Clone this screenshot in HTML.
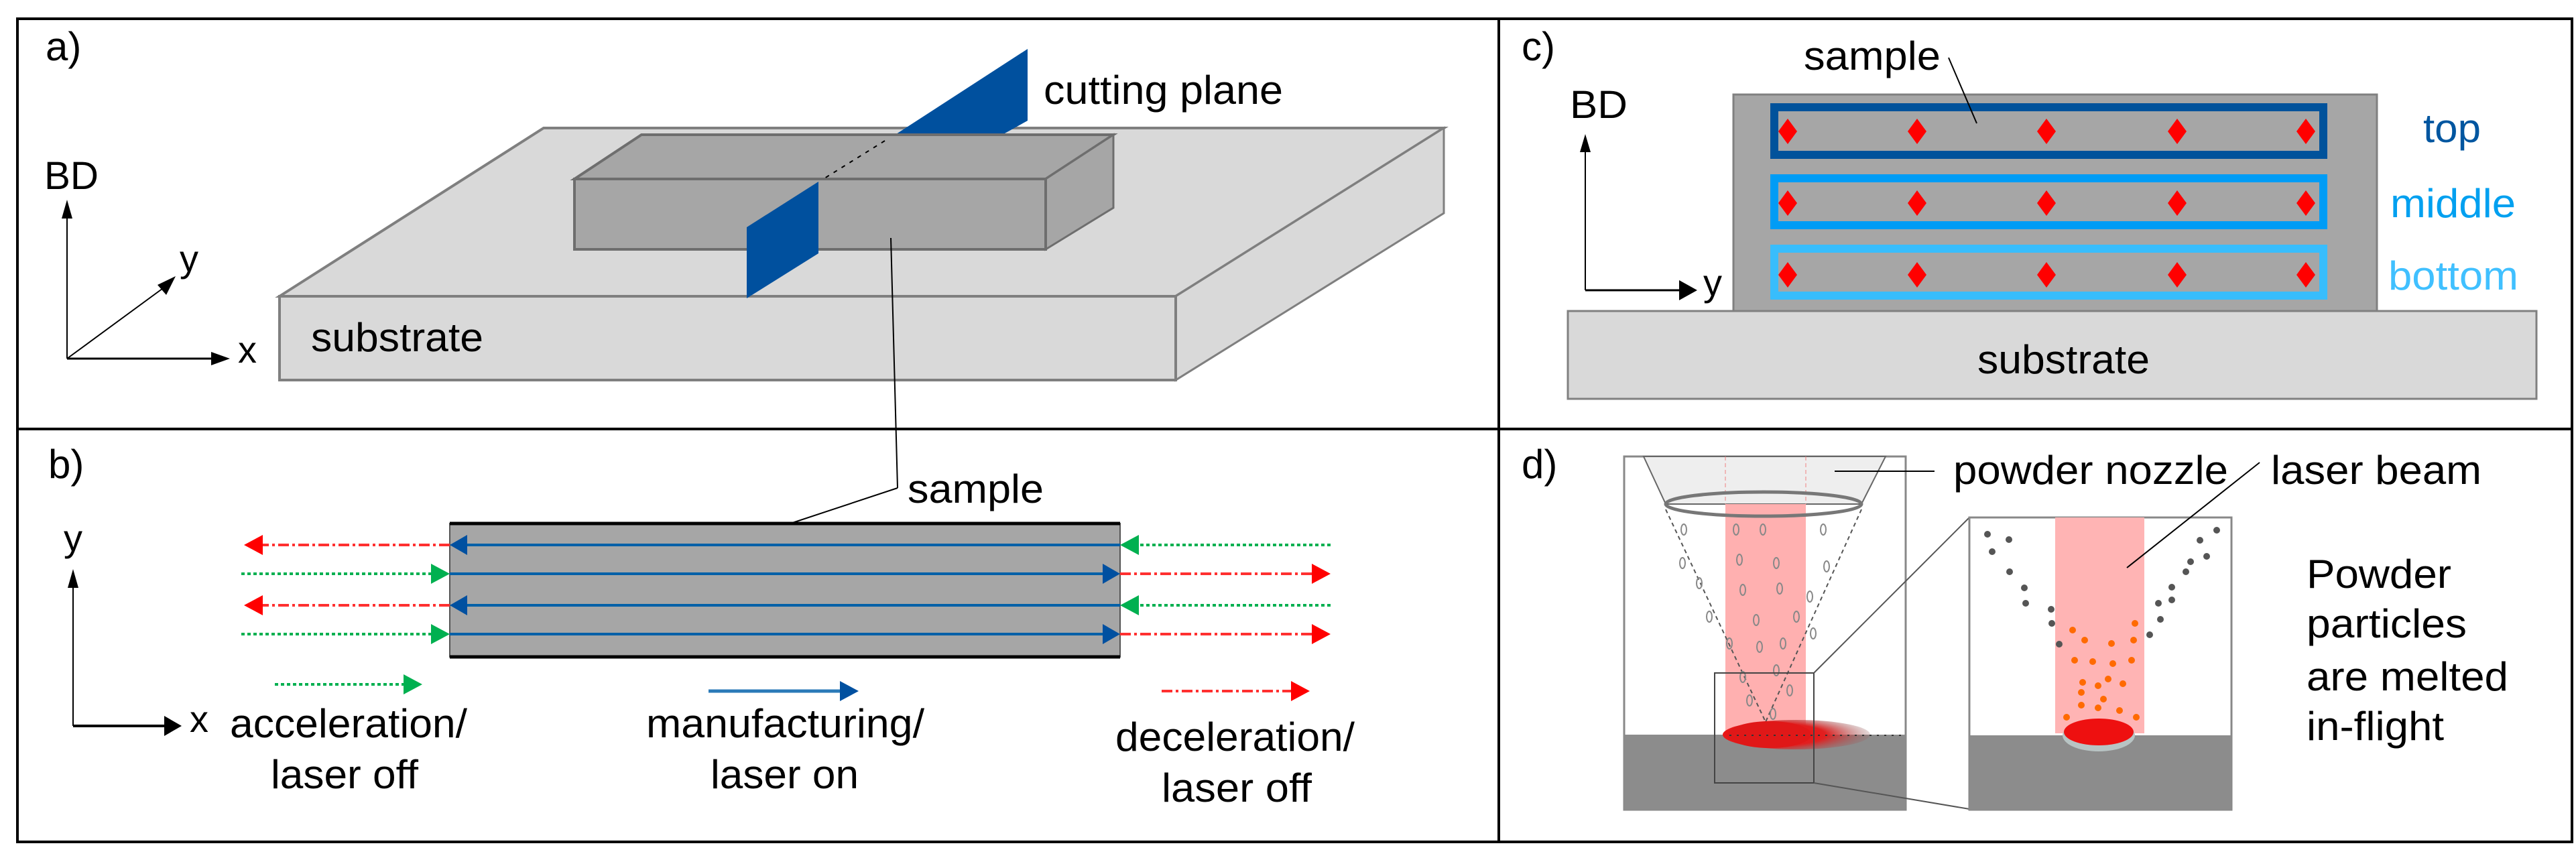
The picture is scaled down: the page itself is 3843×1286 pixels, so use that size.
<!DOCTYPE html>
<html><head><meta charset="utf-8"><style>html,body{margin:0;padding:0;background:#fff}svg{display:block}text{font-family:"Liberation Sans",Arial,sans-serif;fill:#000}</style></head><body>
<svg width="3843" height="1286" viewBox="0 0 3843 1286" xmlns="http://www.w3.org/2000/svg">
<defs>
<radialGradient id="mp" cx="0.3" cy="0.5" r="0.8"><stop offset="0" stop-color="#ff0000"/><stop offset="0.5" stop-color="#e02020"/><stop offset="1" stop-color="#808080" stop-opacity="0"/></radialGradient>
</defs>
<!-- frame -->
<rect x="26" y="28" width="3811" height="1228" fill="none" stroke="#000" stroke-width="4"/>
<line x1="26" y1="640" x2="3837" y2="640" stroke="#000" stroke-width="4"/>
<line x1="2236" y1="28" x2="2236" y2="1256" stroke="#000" stroke-width="4"/>

<!-- panel a -->
<text x="68" y="90" font-size="60">a)</text>
<polygon points="417,442 811,191 2154,191 1754,442" fill="#d9d9d9" stroke="#7f7f7f" stroke-width="4"/>
<polygon points="1754,442 2154,191 2154,318 1754,567" fill="#d9d9d9" stroke="#7f7f7f" stroke-width="3"/>
<rect x="417" y="442" width="1337" height="125" fill="#d9d9d9" stroke="#7f7f7f" stroke-width="4"/>
<polygon points="1337,200 1533,73 1533,180 1497,200" fill="#00509e"/>
<polygon points="857,267 957,201 1661,201 1560,267" fill="#a6a6a6" stroke="#6e6e6e" stroke-width="4"/>
<polygon points="1560,267 1661,201 1661,310 1560,372" fill="#a6a6a6" stroke="#6e6e6e" stroke-width="3"/>
<rect x="857" y="267" width="703" height="105" fill="#a6a6a6" stroke="#6e6e6e" stroke-width="4"/>
<line x1="1320" y1="210" x2="1230" y2="266" stroke="#000" stroke-width="2" stroke-dasharray="6,8"/>
<polygon points="1221,271 1221,378 1114,445 1114,339" fill="#00509e"/>
<line x1="1329" y1="355" x2="1339" y2="728" stroke="#000" stroke-width="2"/>
<line x1="1339" y1="728" x2="1179" y2="781" stroke="#000" stroke-width="2"/>
<text x="1557" y="155" font-size="60" textLength="357" lengthAdjust="spacingAndGlyphs">cutting plane</text>
<text x="464" y="524" font-size="60" textLength="257" lengthAdjust="spacingAndGlyphs">substrate</text>
<text x="66" y="282" font-size="58" textLength="81" lengthAdjust="spacingAndGlyphs">BD</text>
<line x1="100" y1="535" x2="100" y2="320" stroke="#000" stroke-width="2"/>
<polygon points="100,298 92,326 108,326"/>
<line x1="100" y1="535" x2="320" y2="535" stroke="#000" stroke-width="3"/>
<polygon points="343,535 315,525 315,545"/>
<line x1="100" y1="535" x2="250" y2="425" stroke="#000" stroke-width="2"/>
<polygon points="262,412 235,425 248,440"/>
<text x="355" y="541" font-size="56">x</text>
<text x="268" y="405" font-size="56">y</text>

<!-- panel b -->
<text x="72" y="713" font-size="60">b)</text>
<rect x="671" y="781" width="1000" height="199" fill="#a6a6a6" stroke="#555" stroke-width="2"/>
<line x1="671" y1="781" x2="1671" y2="781" stroke="#000" stroke-width="5"/>
<line x1="671" y1="980" x2="1671" y2="980" stroke="#000" stroke-width="5"/>
<g stroke-width="4">
<!-- row 1 -->
<line x1="1671" y1="813" x2="690" y2="813" stroke="#0060a8"/><polygon points="671,813 697,798 697,828" fill="#0050a0"/>
<line x1="671" y1="813" x2="385" y2="813" stroke="#ff3030" stroke-dasharray="16,5,4,5"/><polygon points="364,813 392,798 392,828" fill="#ff0000"/>
<line x1="1985" y1="813" x2="1690" y2="813" stroke="#00b050" stroke-dasharray="5,4"/><polygon points="1671,813 1699,798 1699,828" fill="#00b050"/>
<!-- row 2 -->
<line x1="360" y1="856" x2="650" y2="856" stroke="#00b050" stroke-dasharray="5,4"/><polygon points="671,856 643,841 643,871" fill="#00b050"/>
<line x1="671" y1="856" x2="1650" y2="856" stroke="#0060a8"/><polygon points="1671,856 1645,841 1645,871" fill="#0050a0"/>
<line x1="1671" y1="856" x2="1960" y2="856" stroke="#ff3030" stroke-dasharray="16,5,4,5"/><polygon points="1985,856 1957,841 1957,871" fill="#ff0000"/>
<!-- row 3 -->
<line x1="1671" y1="903" x2="690" y2="903" stroke="#0060a8"/><polygon points="671,903 697,888 697,918" fill="#0050a0"/>
<line x1="671" y1="903" x2="385" y2="903" stroke="#ff3030" stroke-dasharray="16,5,4,5"/><polygon points="364,903 392,888 392,918" fill="#ff0000"/>
<line x1="1985" y1="903" x2="1690" y2="903" stroke="#00b050" stroke-dasharray="5,4"/><polygon points="1671,903 1699,888 1699,918" fill="#00b050"/>
<!-- row 4 -->
<line x1="360" y1="946" x2="650" y2="946" stroke="#00b050" stroke-dasharray="5,4"/><polygon points="671,946 643,931 643,961" fill="#00b050"/>
<line x1="671" y1="946" x2="1650" y2="946" stroke="#0060a8"/><polygon points="1671,946 1645,931 1645,961" fill="#0050a0"/>
<line x1="1671" y1="946" x2="1960" y2="946" stroke="#ff3030" stroke-dasharray="16,5,4,5"/><polygon points="1985,946 1957,931 1957,961" fill="#ff0000"/>
<!-- legend -->
<line x1="410" y1="1021" x2="605" y2="1021" stroke="#00b050" stroke-dasharray="5,4"/><polygon points="630,1021 602,1006 602,1036" fill="#00b050"/>
<line x1="1057" y1="1031" x2="1255" y2="1031" stroke="#2a7ab8" stroke-width="5"/><polygon points="1281,1031 1253,1016 1253,1046" fill="#0050a0"/>
<line x1="1733" y1="1031" x2="1928" y2="1031" stroke="#ff3030" stroke-dasharray="16,5,4,5"/><polygon points="1954,1031 1926,1016 1926,1046" fill="#ff0000"/>
</g>
<line x1="109" y1="1083" x2="109" y2="872" stroke="#000" stroke-width="2"/>
<polygon points="109,849 101,877 117,877"/>
<line x1="109" y1="1083" x2="250" y2="1083" stroke="#000" stroke-width="4"/>
<polygon points="271,1083 245,1068 245,1098"/>
<text x="95" y="822" font-size="56">y</text>
<text x="283" y="1092" font-size="56">x</text>
<text x="1354" y="750" font-size="60" textLength="203" lengthAdjust="spacingAndGlyphs">sample</text>
<text x="343" y="1100" font-size="60" textLength="354" lengthAdjust="spacingAndGlyphs">acceleration/</text>
<text x="404" y="1176" font-size="60" textLength="220" lengthAdjust="spacingAndGlyphs">laser off</text>
<text x="964" y="1100" font-size="60" textLength="415" lengthAdjust="spacingAndGlyphs">manufacturing/</text>
<text x="1060" y="1176" font-size="60" textLength="221" lengthAdjust="spacingAndGlyphs">laser on</text>
<text x="1664" y="1120" font-size="60" textLength="357" lengthAdjust="spacingAndGlyphs">deceleration/</text>
<text x="1733" y="1196" font-size="60" textLength="224" lengthAdjust="spacingAndGlyphs">laser off</text>

<!-- panel c -->
<text x="2270" y="90" font-size="60">c)</text>
<rect x="2339" y="464" width="1445" height="131" fill="#d9d9d9" stroke="#808080" stroke-width="3"/>
<rect x="2586" y="141" width="960" height="323" fill="#a6a6a6" stroke="#808080" stroke-width="3"/>
<rect x="2647" y="160" width="819" height="71" fill="none" stroke="#00529b" stroke-width="12"/>
<rect x="2647" y="266" width="819" height="70" fill="none" stroke="#009cf5" stroke-width="12"/>
<rect x="2647" y="371" width="819" height="70" fill="none" stroke="#38bdfc" stroke-width="12"/>
<g fill="#ff0000">
<polygon points="2667,177 2681,196 2667,215 2653,196"/><polygon points="2860,177 2874,196 2860,215 2846,196"/><polygon points="3053,177 3067,196 3053,215 3039,196"/><polygon points="3248,177 3262,196 3248,215 3234,196"/><polygon points="3440,177 3454,196 3440,215 3426,196"/>
<polygon points="2667,284 2681,303 2667,322 2653,303"/><polygon points="2860,284 2874,303 2860,322 2846,303"/><polygon points="3053,284 3067,303 3053,322 3039,303"/><polygon points="3248,284 3262,303 3248,322 3234,303"/><polygon points="3440,284 3454,303 3440,322 3426,303"/>
<polygon points="2667,391 2681,410 2667,429 2653,410"/><polygon points="2860,391 2874,410 2860,429 2846,410"/><polygon points="3053,391 3067,410 3053,429 3039,410"/><polygon points="3248,391 3262,410 3248,429 3234,410"/><polygon points="3440,391 3454,410 3440,429 3426,410"/>
</g>
<line x1="2907" y1="86" x2="2949" y2="184" stroke="#000" stroke-width="2"/>
<text x="2691" y="104" font-size="60" textLength="204" lengthAdjust="spacingAndGlyphs">sample</text>
<text x="2342" y="176" font-size="58" textLength="86" lengthAdjust="spacingAndGlyphs">BD</text>
<line x1="2365" y1="433" x2="2365" y2="222" stroke="#000" stroke-width="2"/>
<polygon points="2365,200 2357,227 2373,227"/>
<line x1="2365" y1="433" x2="2510" y2="433" stroke="#000" stroke-width="3"/>
<polygon points="2532,433 2505,418 2505,448"/>
<text x="2541" y="441" font-size="56">y</text>
<text x="3615" y="212" font-size="60" fill="#0056a0" style="fill:#0056a0" textLength="86" lengthAdjust="spacingAndGlyphs">top</text>
<text x="3566" y="324" font-size="60" style="fill:#00a0f0" textLength="187" lengthAdjust="spacingAndGlyphs">middle</text>
<text x="3563" y="432" font-size="60" style="fill:#40c0ff" textLength="194" lengthAdjust="spacingAndGlyphs">bottom</text>
<text x="2950" y="557" font-size="60" textLength="257" lengthAdjust="spacingAndGlyphs">substrate</text>

<!-- panel d -->
<text x="2270" y="713" font-size="60">d)</text>
<!-- left box -->
<rect x="2423" y="681" width="420" height="527" fill="#fff" stroke="#888" stroke-width="3"/>
<rect x="2423" y="1096" width="420" height="112" fill="#8c8c8c"/>
<polygon points="2452,681 2813,681 2777,752 2485,752" fill="#eeeeee" stroke="#666" stroke-width="2"/>
<rect x="2574" y="752" width="120" height="344" fill="#ffb0b0"/>
<line x1="2574" y1="681" x2="2574" y2="752" stroke="#f08080" stroke-width="1" stroke-dasharray="6,4"/>
<line x1="2694" y1="681" x2="2694" y2="752" stroke="#f08080" stroke-width="1" stroke-dasharray="6,4"/>
<ellipse cx="2631" cy="752" rx="146" ry="18" fill="none" stroke="#777" stroke-width="5"/>
<line x1="2485" y1="760" x2="2634" y2="1077" stroke="#555" stroke-width="2" stroke-dasharray="6,5"/>
<line x1="2777" y1="760" x2="2634" y2="1077" stroke="#555" stroke-width="2" stroke-dasharray="6,5"/>
<ellipse cx="2680" cy="1096" rx="110" ry="22" fill="url(#mp)"/>
<ellipse cx="2640" cy="1096" rx="62" ry="20" fill="#e01818"/>
<line x1="2580" y1="1097" x2="2843" y2="1097" stroke="#333" stroke-width="2" stroke-dasharray="3,8"/>
<g fill="none" stroke="#888" stroke-width="2">
<ellipse cx="2512" cy="790" rx="4" ry="8"/><ellipse cx="2590" cy="790" rx="4" ry="8"/><ellipse cx="2630" cy="790" rx="4" ry="8"/><ellipse cx="2720" cy="790" rx="4" ry="8"/>
<ellipse cx="2510" cy="840" rx="4" ry="8"/><ellipse cx="2595" cy="835" rx="4" ry="8"/><ellipse cx="2650" cy="840" rx="4" ry="8"/><ellipse cx="2725" cy="845" rx="4" ry="8"/>
<ellipse cx="2535" cy="870" rx="4" ry="8"/><ellipse cx="2600" cy="880" rx="4" ry="8"/><ellipse cx="2655" cy="878" rx="4" ry="8"/><ellipse cx="2700" cy="890" rx="4" ry="8"/>
<ellipse cx="2550" cy="920" rx="4" ry="8"/><ellipse cx="2620" cy="925" rx="4" ry="8"/><ellipse cx="2680" cy="920" rx="4" ry="8"/><ellipse cx="2705" cy="945" rx="4" ry="8"/>
<ellipse cx="2580" cy="960" rx="4" ry="8"/><ellipse cx="2625" cy="965" rx="4" ry="8"/><ellipse cx="2660" cy="960" rx="4" ry="8"/>
<ellipse cx="2600" cy="1010" rx="4" ry="8"/><ellipse cx="2650" cy="1000" rx="4" ry="8"/><ellipse cx="2670" cy="1030" rx="4" ry="8"/>
<ellipse cx="2610" cy="1045" rx="4" ry="8"/><ellipse cx="2645" cy="1065" rx="4" ry="8"/>
</g>
<rect x="2558" y="1004" width="148" height="164" fill="none" stroke="#444" stroke-width="2"/>
<line x1="2706" y1="1004" x2="2938" y2="772" stroke="#555" stroke-width="2"/>
<line x1="2706" y1="1168" x2="2938" y2="1207" stroke="#555" stroke-width="2"/>
<!-- right box -->
<rect x="2938" y="772" width="391" height="436" fill="#fff" stroke="#888" stroke-width="3"/>
<rect x="2938" y="1097" width="391" height="111" fill="#8c8c8c"/>
<rect x="3066" y="772" width="133" height="322" fill="#ffb4b4"/>
<ellipse cx="3131" cy="1097" rx="54" ry="24" fill="#b8c4c4"/>
<ellipse cx="3131" cy="1092" rx="52" ry="20" fill="#ee1010"/>
<g fill="#555">
<circle cx="2965" cy="797" r="5"/><circle cx="2997" cy="805" r="5"/><circle cx="2972" cy="823" r="5"/><circle cx="2998" cy="853" r="5"/><circle cx="3020" cy="877" r="5"/><circle cx="3022" cy="900" r="5"/><circle cx="3060" cy="909" r="5"/><circle cx="3061" cy="930" r="5"/><circle cx="3072" cy="961" r="5"/>
<circle cx="3307" cy="791" r="5"/><circle cx="3282" cy="806" r="5"/><circle cx="3292" cy="830" r="5"/><circle cx="3268" cy="838" r="5"/><circle cx="3261" cy="853" r="5"/><circle cx="3240" cy="876" r="5"/><circle cx="3240" cy="895" r="5"/><circle cx="3220" cy="900" r="5"/><circle cx="3223" cy="924" r="5"/><circle cx="3207" cy="947" r="5"/>
</g>
<g fill="#ff6a00">
<circle cx="3092" cy="940" r="5"/><circle cx="3185" cy="930" r="5"/><circle cx="3110" cy="955" r="5"/><circle cx="3150" cy="960" r="5"/><circle cx="3183" cy="955" r="5"/><circle cx="3095" cy="985" r="5"/><circle cx="3122" cy="987" r="5"/><circle cx="3152" cy="990" r="5"/><circle cx="3180" cy="985" r="5"/><circle cx="3107" cy="1018" r="5"/><circle cx="3130" cy="1023" r="5"/><circle cx="3145" cy="1013" r="5"/><circle cx="3167" cy="1020" r="5"/><circle cx="3105" cy="1033" r="5"/><circle cx="3138" cy="1043" r="5"/><circle cx="3105" cy="1052" r="5"/><circle cx="3130" cy="1056" r="5"/><circle cx="3162" cy="1060" r="5"/><circle cx="3083" cy="1070" r="5"/><circle cx="3187" cy="1070" r="5"/>
</g>
<line x1="2737" y1="703" x2="2886" y2="703" stroke="#000" stroke-width="2"/>
<line x1="3371" y1="690" x2="3173" y2="847" stroke="#000" stroke-width="2"/>
<text x="2914" y="722" font-size="60" textLength="410" lengthAdjust="spacingAndGlyphs">powder nozzle</text>
<text x="3388" y="722" font-size="60" textLength="314" lengthAdjust="spacingAndGlyphs">laser beam</text>
<text x="3441" y="877" font-size="60" textLength="216" lengthAdjust="spacingAndGlyphs">Powder</text>
<text x="3441" y="951" font-size="60" textLength="239" lengthAdjust="spacingAndGlyphs">particles</text>
<text x="3441" y="1030" font-size="60" textLength="301" lengthAdjust="spacingAndGlyphs">are melted</text>
<text x="3441" y="1104" font-size="60" textLength="205" lengthAdjust="spacingAndGlyphs">in-flight</text>
</svg>
</body></html>
